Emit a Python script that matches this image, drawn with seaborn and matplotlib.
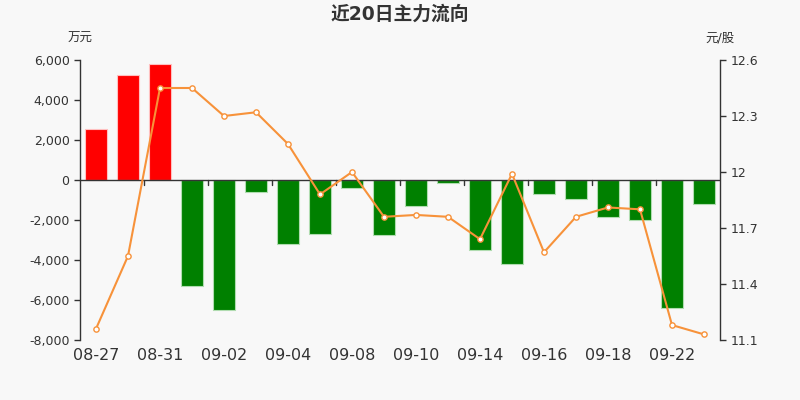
import matplotlib
matplotlib.use('Agg')
import matplotlib.pyplot as plt
import matplotlib.ticker as mticker
import numpy as np
import seaborn as sns

# data
dates = ['08-27', '08-28', '08-31', '09-01', '09-02', '09-03', '09-04', '09-07', '09-08', '09-09',
         '09-10', '09-11', '09-14', '09-15', '09-16', '09-17', '09-18', '09-21', '09-22', '09-23']
flow = [2550, 5270, 5780, -5300, -6520, -580, -3180, -2680, -420, -2730,
        -1300, -170, -3500, -4220, -720, -950, -1870, -2020, -6420, -1180]
price = [11.16, 11.55, 12.45, 12.45, 12.30, 12.32, 12.15, 11.88, 12.00, 11.76,
         11.77, 11.76, 11.64, 11.99, 11.57, 11.76, 11.81, 11.80, 11.18, 11.13]
shown_dates = dates[::2]

bg = '#f8f8f8'
text_color = '#333333'

sns.set_theme(style='white')
plt.rcParams['font.family'] = ['DejaVu Sans', 'Noto Sans CJK SC']
plt.rcParams['axes.unicode_minus'] = False

fig = plt.figure(figsize=(8, 4), dpi=100, facecolor=bg)
ax = fig.add_axes([0.1, 0.15, 0.8, 0.7])
ax.set_facecolor(bg)

bar_colors = ['#ff0000' if v >= 0 else '#008000' for v in flow]
edge_colors = ['#ffc0c0' if v >= 0 else '#b0dcb0' for v in flow]
sns.barplot(x=dates, y=flow, hue=dates, palette=bar_colors, legend=False,
            width=0.7, ax=ax, saturation=1)
for patch, ec in zip(ax.patches, edge_colors):
    patch.set_edgecolor(ec)
    patch.set_linewidth(0.8)

ax.set_xlim(-0.5, 19.5)
ax.set_ylim(-8000, 6000)
ax.set_yticks(range(-8000, 6001, 2000))
ax.yaxis.set_major_formatter(mticker.FuncFormatter(lambda v, p: f'{int(v):,}'))
ax.set_xticks(range(0, 20, 2))
ax.set_xticklabels(shown_dates)
ax.set_xlabel('')
ax.set_ylabel('')
ax.tick_params(axis='x', length=0, labelsize=11.5, colors=text_color, pad=6)
ax.tick_params(axis='y', length=4, width=1, labelsize=9, colors=text_color, direction='out', left=True)

for side in ['top', 'bottom', 'right']:
    ax.spines[side].set_visible(False)
ax.spines['left'].set_color(text_color)
ax.spines['left'].set_linewidth(1)

# zero line with category ticks
ax.axhline(0, color=text_color, lw=1, zorder=3)
for b in np.arange(1.5, 19, 2):
    ax.plot([b, b], [0, -230], color=text_color, lw=1, zorder=3, clip_on=False)

# price line on the right axis
ax2 = ax.twinx()
sns.lineplot(x=np.arange(len(price)), y=price, ax=ax2, color='#f7923a', lw=1.5,
             marker='o', markersize=3.8, markerfacecolor='white', markeredgecolor='#f7923a',
             markeredgewidth=1)
ax2.set_ylim(11.1, 12.6)
ax2.set_yticks([11.1, 11.4, 11.7, 12.0, 12.3, 12.6])
ax2.yaxis.set_major_formatter(mticker.FuncFormatter(lambda v, p: f'{round(v, 1):g}'))
ax2.tick_params(axis='y', length=4, width=1, labelsize=9, colors=text_color, direction='out', right=True)
for side in ['top', 'bottom', 'left']:
    ax2.spines[side].set_visible(False)
ax2.spines['right'].set_color(text_color)
ax2.spines['right'].set_linewidth(1)
ax2.set_ylabel('')

fig.text(0.5, 0.965, '近20日主力流向', ha='center', va='center', fontsize=13.5,
         fontweight='bold', color=text_color)
fig.text(0.1, 0.905, '万元', ha='center', va='center', fontsize=9, color=text_color)
fig.text(0.9, 0.905, '元/股', ha='center', va='center', fontsize=9, color=text_color)

fig.savefig('out.png', dpi=100, facecolor=bg)
